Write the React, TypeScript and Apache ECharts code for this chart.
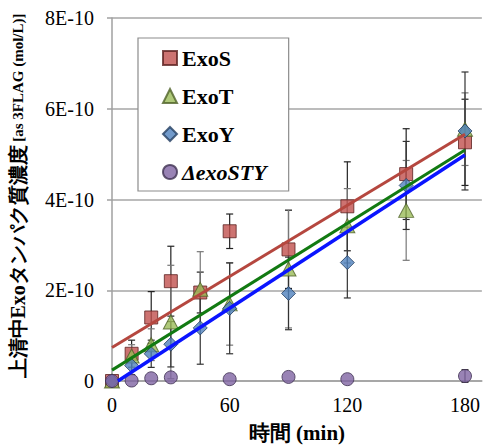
import React, { useEffect, useRef } from "react";
import * as echarts from "echarts";

// time points (min)
const times = [0, 10, 20, 30, 45, 60, 90, 120, 150, 180];
// concentrations in units of 1E-10 mol/L
const exoS = [0, 0.6, 1.4, 2.2, 1.95, 3.3, 2.9, 3.85, 4.56, 5.26];
const exoT = [0, 0.55, 0.8, 1.3, 2.02, 1.7, 2.47, 3.42, 3.76, 5.55];
const exoY = [0, 0.34, 0.6, 0.81, 1.17, 1.6, 1.93, 2.61, 4.31, 5.51];
const dExoSTY: (number | null)[] = [0, 0.01, 0.06, 0.08, null, 0.04, 0.09, 0.04, null, 0.11];
// error bars (± in 1E-10)
const exoSErr = [0, 0.3, 0.57, 0.77, 0.45, 0.38, 0.86, 0.98, 1.0, 0.95];
const exoTErr = [0, 0.25, 0.35, 1.25, 0.83, 0.91, 1.3, 0.82, 1.1, 0.8];
const exoYErr = [0, 0.2, 0.3, 0.5, 0.8, 1.0, 0.8, 0.78, 0.97, 1.3];
const dExoSTYErr = [0, 0, 0, 0, 0, 0, 0, 0, 0, 0.14];
// linear trend lines [x, y]
const trendS = [[0, 0.74], [180, 5.44]];
const trendT = [[0, 0.24], [180, 5.09]];
const trendY = [[3, 0], [180, 4.98]];
// axis ticks
const yTicks = [0, 2, 4, 6, 8];
const xTickStep = 60;
const xMax = 188.6;

const names = ["ExoS", "ExoT", "ExoY", "ΔexoSTY"];

const serif = "Liberation Serif";

function errData(vals: (number | null)[], errs: number[]) {
  const out: number[][] = [];
  vals.forEach((v, i) => {
    if (v == null) return;
    if (errs[i] > 0) out.push([times[i], v - errs[i], v + errs[i]]);
  });
  return out;
}

function errSeries(vals: (number | null)[], errs: number[], color: string) {
  return {
    type: "custom",
    z: 1,
    clip: false,
    silent: true,
    data: errData(vals, errs),
    renderItem: (params: any, api: any) => {
      const x = api.value(0);
      const lo = api.coord([x, api.value(1)]);
      const hi = api.coord([x, api.value(2)]);
      const hw = 3.5;
      const st = { stroke: color, lineWidth: 1.2 };
      return {
        type: "group",
        children: [
          { type: "line", shape: { x1: lo[0], y1: lo[1], x2: hi[0], y2: hi[1] }, style: st },
          { type: "line", shape: { x1: lo[0] - hw, y1: lo[1], x2: lo[0] + hw, y2: lo[1] }, style: st },
          { type: "line", shape: { x1: hi[0] - hw, y1: hi[1], x2: hi[0] + hw, y2: hi[1] }, style: st },
        ],
      };
    },
  };
}

function pts(vals: (number | null)[]) {
  return vals.map((v, i) => (v == null ? null : [times[i], v])).filter((d) => d) as number[][];
}

export default function App() {
  const ref = useRef<HTMLDivElement>(null);
  useEffect(() => {
    if (!ref.current) return;
    const chart = echarts.init(ref.current, undefined, { renderer: "svg" });
    chart.setOption({
      animation: false,
      grid: { left: 112, right: 0, top: 18, bottom: 57 },
      xAxis: {
        type: "value",
        min: 0,
        max: xMax,
        interval: xTickStep,
        name: "時間 (min)",
        nameLocation: "middle",
        nameGap: 41,
        nameTextStyle: { fontSize: 21, fontWeight: "bold", color: "#000", fontFamily: serif },
        axisLine: { show: true, lineStyle: { color: "#a0a0a0", width: 1.5 } },
        axisTick: { show: false },
        splitLine: { show: false },
        axisLabel: {
          fontSize: 20,
          color: "#000",
          fontFamily: serif,
          margin: 14,
          showMaxLabel: false,
          formatter: (v: number) => (Math.abs(v % xTickStep) < 1e-6 ? String(v) : ""),
        },
      },
      yAxis: {
        type: "value",
        min: yTicks[0],
        max: yTicks[yTicks.length - 1],
        interval: 2,
        axisLine: { show: true, lineStyle: { color: "#a0a0a0", width: 1.5 } },
        axisTick: { show: true, length: 5, lineStyle: { color: "#a0a0a0", width: 1.5 } },
        splitLine: { show: true, lineStyle: { color: "#a6a6a6", width: 1.5 } },
        axisLabel: {
          fontSize: 20,
          color: "#000",
          fontFamily: serif,
          margin: 18,
          formatter: (v: number) => (v === 0 ? "0" : v + "E-10"),
        },
      },
      legend: {
        orient: "vertical",
        left: 138,
        top: 38,
        padding: [9, 22, 8, 24],
        itemGap: 16,
        itemWidth: 14,
        itemHeight: 14,
        backgroundColor: "#fff",
        borderColor: "#8c8c8c",
        borderWidth: 1.2,
        borderRadius: 0,
        data: [
          { name: names[0], icon: "rect" },
          { name: names[1], icon: "triangle" },
          { name: names[2], icon: "diamond" },
          { name: names[3], icon: "circle" },
        ],
        formatter: (n: string) => (n === names[3] ? "{i|" + n + "}" : "{b|" + n + "}"),
        textStyle: {
          color: "#000",
          fontFamily: serif,
          fontSize: 21,
          fontWeight: "bold",
          rich: {
            b: { fontSize: 22, fontWeight: "bold", fontFamily: serif, color: "#000", lineHeight: 20 },
            i: { fontSize: 22, fontWeight: "bold", fontStyle: "italic", fontFamily: serif, color: "#000", lineHeight: 20 },
          },
        },
      },
      graphic: [
        {
          type: "text",
          x: 18,
          y: 196,
          rotation: Math.PI / 2,
          style: {
            text: "{a|上清中Exoタンパク質濃度} {s|[as 3FLAG (mol/L)]}",
            align: "center",
            verticalAlign: "middle",
            fill: "#000",
            rich: {
              a: { fontSize: 20, fontWeight: "bold", fontFamily: serif, fill: "#000" },
              s: { fontSize: 15, fontWeight: "bold", fontFamily: serif, fill: "#000" },
            },
          },
        },
      ],
      series: [
        errSeries(exoS, exoSErr, "#222"),
        errSeries(exoT, exoTErr, "#777"),
        errSeries(exoY, exoYErr, "#333"),
        errSeries(dExoSTY, dExoSTYErr, "#333"),
        {
          name: names[0],
          type: "scatter",
          z: 2,
          symbol: "rect",
          symbolSize: 13,
          data: pts(exoS),
          itemStyle: { color: "#c0504d", borderColor: "#5c2220", borderWidth: 1 },
        },
        {
          name: names[1],
          type: "scatter",
          z: 2,
          symbol: "triangle",
          symbolSize: [15, 14],
          data: pts(exoT),
          itemStyle: { color: "#9bbb59", borderColor: "#4f6128", borderWidth: 1 },
        },
        {
          name: names[2],
          type: "scatter",
          z: 2,
          symbol: "diamond",
          symbolSize: 14,
          data: pts(exoY),
          itemStyle: { color: "#4f81bd", borderColor: "#243f60", borderWidth: 1 },
        },
        {
          name: names[3],
          type: "scatter",
          z: 2,
          symbol: "circle",
          symbolSize: 13,
          data: pts(dExoSTY),
          itemStyle: { color: "#8064a2", borderColor: "#3f3151", borderWidth: 1 },
        },
        {
          type: "line",
          z: 3,
          data: trendS,
          showSymbol: false,
          symbol: "none",
          silent: true,
          lineStyle: { color: "#b5473f", width: 3 },
        },
        {
          type: "line",
          z: 3,
          data: trendT,
          showSymbol: false,
          symbol: "none",
          silent: true,
          lineStyle: { color: "#127a12", width: 3 },
        },
        {
          type: "line",
          z: 3,
          data: trendY,
          showSymbol: false,
          symbol: "none",
          silent: true,
          lineStyle: { color: "#0a14ff", width: 3.5 },
        },
      ],
    });
    return () => chart.dispose();
  }, []);
  return (
    <div
      ref={ref}
      style={{ position: "fixed", left: 0, top: 0, width: 483, height: 448, background: "#fff" }}
    />
  );
}
